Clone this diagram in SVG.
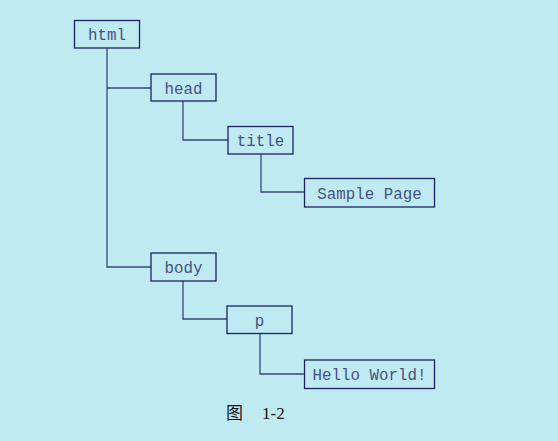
<svg xmlns="http://www.w3.org/2000/svg" width="558" height="441" viewBox="0 0 558 441">
<style>
.box{fill:none;stroke:#1c2260;stroke-width:1.3}
.lbl{font-family:"Liberation Mono","Courier New",monospace;font-size:15.8px;fill:#44527f;text-anchor:middle}
.con{fill:none;stroke:#3a4778;stroke-width:1.3}
.cap{font-family:"Liberation Serif","Noto Sans CJK SC",serif;font-size:17px;fill:#111}
</style>
<rect width="558" height="441" fill="#c0eaf2"/>
<g id="connectors">
<path class="con" d="M107 48V267H151M107 88H151"/>
<path class="con" d="M183 101V140H228"/>
<path class="con" d="M261 154V192H304"/>
<path class="con" d="M183 281V319H227"/>
<path class="con" d="M260 333V374H304"/>
</g>
<g id="html"><rect class="box" x="74.5" y="20.5" width="65" height="27.5"/><text class="lbl" x="107" y="40">html</text></g>
<g id="head"><rect class="box" x="151" y="74" width="65" height="27"/><text class="lbl" x="183.5" y="93.5">head</text></g>
<g id="title"><rect class="box" x="228" y="126.5" width="65" height="27.5"/><text class="lbl" x="260.5" y="146">title</text></g>
<g id="sample"><rect class="box" x="304.5" y="178.5" width="130" height="28.5"/><text class="lbl" x="369.5" y="198.5">Sample Page</text></g>
<g id="body"><rect class="box" x="151" y="253" width="65" height="28"/><text class="lbl" x="183.5" y="272.5">body</text></g>
<g id="p"><rect class="box" x="227" y="306" width="65" height="27.5"/><text class="lbl" x="259.5" y="325.5">p</text></g>
<g id="hello"><rect class="box" x="304.5" y="360" width="130" height="28.5"/><text class="lbl" x="369.5" y="380">Hello World!</text></g>
<text class="cap" x="226" y="419">图</text>
<text class="cap" x="262" y="419">1-2</text>
</svg>
